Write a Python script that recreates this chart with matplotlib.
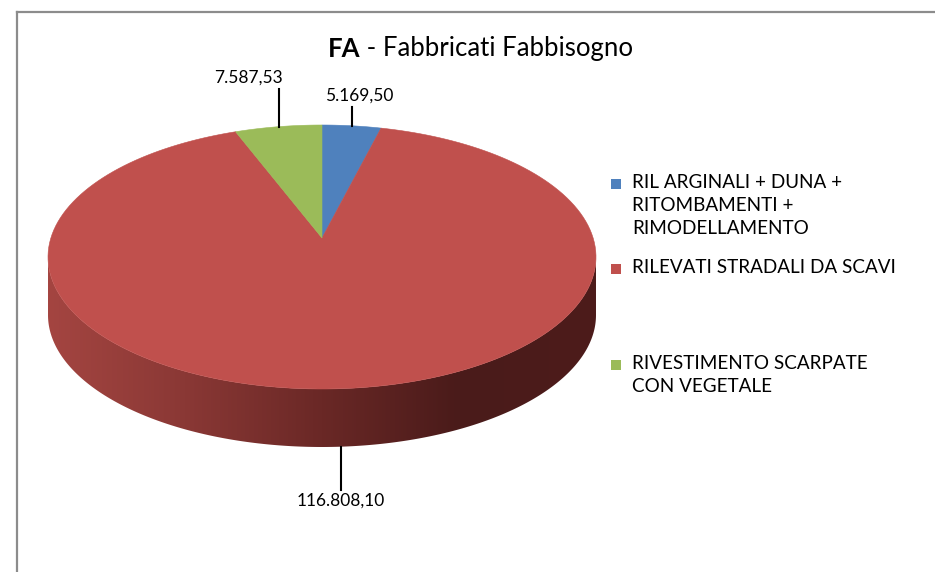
"""
Pie 3D: FA - Fabbricati Fabbisogno
"""

import numpy as np
from matplotlib import pyplot as plt
from matplotlib.patches import Polygon, Rectangle
from matplotlib.lines import Line2D
from matplotlib.colors import LinearSegmentedColormap

# ------------------------------------------------------------------
# data
# ------------------------------------------------------------------
categories = ['RIL ARGINALI + DUNA +\nRITOMBAMENTI +\nRIMODELLAMENTO',
              'RILEVATI STRADALI DA SCAVI',
              'RIVESTIMENTO SCARPATE\nCON VEGETALE']
values = [5169.50, 116808.10, 7587.53]
value_labels = ['5.169,50', '116.808,10', '7.587,53']
colors_top = ['#4f81bd', '#c0504d', '#9bbb59']

plt.rcParams['font.family'] = ['Lato', 'DejaVu Sans']

# ------------------------------------------------------------------
# geometry of the fake 3d pie (pixel space)
# ------------------------------------------------------------------
cx, cy = 322, 257       # centre of top ellipse
a, b = 274, 132         # semi axes
apex_y = 238            # excel perspective: apex sits above centre
h = 58                  # thickness
m = 1.16                # far side compression

def ell_param(theta):
    # pie angle (deg, clockwise from top) -> ellipse parameter
    th = np.radians(theta)
    s, c = np.sin(th), np.cos(th)
    c = np.where(c > 0, c * m, c / m)
    return np.arctan2(s, c)

def ell_xy(t):
    return cx + a * np.sin(t), cy - b * np.cos(t)

fig = plt.figure(figsize=(9.35, 5.72), dpi=100)
ax = fig.add_axes([0, 0, 1, 1])
ax.set_xlim(0, 935)
ax.set_ylim(572, 0)
ax.axis('off')

# side wall (front half), one polygon filled with a left->right gradient
ts = np.linspace(np.pi / 2, 3 * np.pi / 2, 300)
xs, ys = ell_xy(ts)
side_pts = list(zip(xs, ys)) + list(zip(xs[::-1], ys[::-1] + h))
side = Polygon(side_pts, closed=True, fc='none', ec='none')
ax.add_patch(side)
side_cmap = LinearSegmentedColormap.from_list(
    'side', ['#a44541', '#8a3835', '#6a2826', '#4a1b1a', '#4d1c1b'])
grad = np.linspace(0, 1, 256).reshape(1, -1)
im = ax.imshow(grad, cmap=side_cmap, aspect='auto',
               extent=(cx - a, cx + a, cy + b + h + 2, cy - 2), zorder=1)
im.set_clip_path(side)

# top face wedges
total = sum(values)
start = 0.0
mids = []
for v, col in zip(values, colors_top):
    span = v / total * 360
    thetas = np.linspace(start, start + span, 200)
    wx, wy = ell_xy(ell_param(thetas))
    pts = [(cx, apex_y)] + list(zip(wx, wy))
    ax.add_patch(Polygon(pts, closed=True, fc=col, ec=col, lw=0.4, zorder=2))
    mids.append(start + span / 2)
    start += span

# data labels with leader lines
label_size = 12.5
for lab, mid in zip(value_labels, mids):
    t = ell_param(mid)
    x, y = ell_xy(t)
    if np.cos(t) > 0:
        # far side: line goes up
        y_end = y - (38 if mid > 180 else 19)
        ax.add_line(Line2D([x, x], [y, y_end], color='black', lw=1.5))
        ax.text(x - (30 if mid > 180 else -8), y_end - 3, lab, ha='center', va='bottom',
                fontsize=label_size)
    else:
        y = y + h
        ax.add_line(Line2D([x, x], [y, y + 43], color='black', lw=1.5))
        ax.text(x, y + 46, lab, ha='center', va='top', fontsize=label_size)

# title: bold "FA" + regular rest
t1 = ax.text(328, 57, 'FA', fontsize=18.5, fontweight='bold', ha='left', va='baseline')
ax.annotate(' - Fabbricati Fabbisogno', xy=(1, 0), xycoords=t1,
            fontsize=18.5, ha='left', va='bottom')

# legend
leg_x = 611
leg_y = [184, 269, 365]
for cat, col, y in zip(categories, colors_top, leg_y):
    ax.add_patch(Rectangle((leg_x, y - 5), 10, 10, fc=col, ec='none'))
    ax.text(leg_x + 21, y - 10, cat, ha='left', va='top', fontsize=13.6,
            linespacing=1.42)

# chart area border (top and left only visible)
ax.add_line(Line2D([17, 935], [12, 12], color='#8c8c8c', lw=1.6))
ax.add_line(Line2D([17, 17], [12, 572], color='#8c8c8c', lw=1.6))

fig.savefig('out.png', dpi=100)
